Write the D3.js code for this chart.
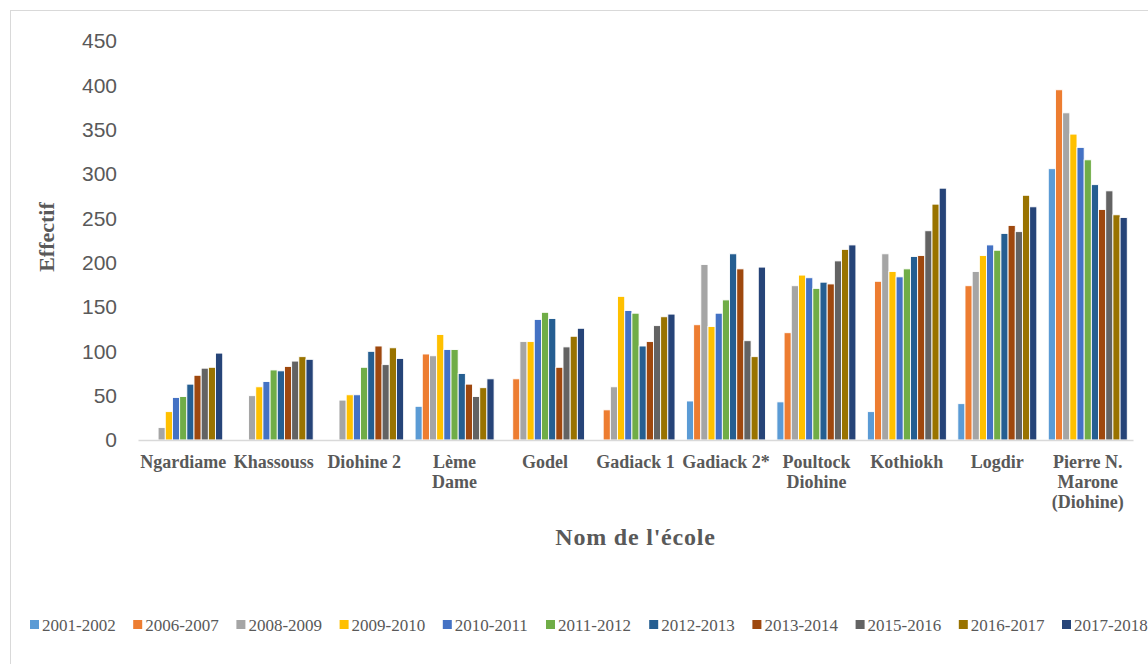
<!DOCTYPE html>
<html>
<head>
<meta charset="utf-8">
<script src="https://cdn.jsdelivr.net/npm/d3@7"></script>
<style>
  html, body { margin: 0; padding: 0; background: #fff; }
  svg { display: block; }
</style>
</head>
<body>
<svg id="chart" width="1148" height="664"></svg>
<script>
// Schools (x-axis categories); "\n" marks where a label wraps
const schools = [
  "Ngardiame", "Khassouss", "Diohine 2", "Lème\nDame", "Godel", "Gadiack 1",
  "Gadiack 2*", "Poultock\nDiohine", "Kothiokh", "Logdir", "Pierre N.\nMarone\n(Diohine)"
];

// School years (series)
const years = [
  "2001-2002", "2006-2007", "2008-2009", "2009-2010", "2010-2011", "2011-2012",
  "2012-2013", "2013-2014", "2015-2016", "2016-2017", "2017-2018"
];

const yearColors = [
  "#5B9BD5", "#ED7D31", "#A5A5A5", "#FFC000", "#4472C4", "#70AD47",
  "#255E91", "#9E480E", "#636363", "#997300", "#264478"
];

// Enrolment per school, one array per school year (null = no data)
const y2001_2002 = [null, null, null, 38, null, null, 44, 43, 32, 41, 306];
const y2006_2007 = [null, null, null, 97, 69, 34, 130, 121, 179, 174, 395];
const y2008_2009 = [14, 50, 45, 95, 111, 60, 198, 174, 210, 190, 369];
const y2009_2010 = [32, 60, 51, 119, 111, 162, 128, 186, 190, 208, 345];
const y2010_2011 = [48, 66, 51, 102, 136, 146, 143, 183, 184, 220, 330];
const y2011_2012 = [49, 79, 82, 102, 144, 143, 158, 171, 193, 214, 316];
const y2012_2013 = [63, 78, 100, 75, 137, 106, 210, 178, 207, 233, 288];
const y2013_2014 = [73, 83, 106, 63, 82, 111, 193, 176, 208, 242, 260];
const y2015_2016 = [81, 89, 85, 49, 105, 129, 112, 202, 236, 235, 281];
const y2016_2017 = [82, 94, 104, 59, 117, 139, 94, 215, 266, 276, 254];
const y2017_2018 = [98, 91, 92, 69, 126, 142, 195, 220, 284, 263, 251];

const yTicks = [0, 50, 100, 150, 200, 250, 300, 350, 400, 450];

const seriesValues = [
  y2001_2002, y2006_2007, y2008_2009, y2009_2010, y2010_2011, y2011_2012,
  y2012_2013, y2013_2014, y2015_2016, y2016_2017, y2017_2018
];

// Flat table of bars
const rows = [];
schools.forEach((s, i) => {
  years.forEach((yr, j) => {
    const v = seriesValues[j][i];
    if (v != null) rows.push({ school: s, year: yr, value: v, color: yearColors[j] });
  });
});

const svg = d3.select("#chart");
const textGrey = "#595959";
const serif = "'Liberation Serif', 'Times New Roman', serif";

// Outer chart frame
svg.append("rect")
  .attr("x", 10.5).attr("y", 10.5)
  .attr("width", 1160).attr("height", 680)
  .attr("fill", "none").attr("stroke", "#D9D9D9").attr("stroke-width", 1);

const plot = { left: 138, right: 1133, top: 41, bottom: 440 };

const x0 = d3.scaleBand().domain(schools).range([plot.left, plot.right]).paddingInner(0).paddingOuter(0);
const groupWidth = 79;
const x1 = d3.scaleBand().domain(years)
  .range([(x0.bandwidth() - groupWidth) / 2, (x0.bandwidth() + groupWidth) / 2]);
const y = d3.scaleLinear().domain([0, 450]).range([plot.bottom, plot.top]);

// Y axis (labels only)
const yAxis = svg.append("g")
  .attr("transform", `translate(${plot.left - 21},0)`)
  .call(d3.axisLeft(y).tickValues(yTicks).tickSize(0).tickPadding(0));
yAxis.select(".domain").remove();
yAxis.selectAll("text")
  .attr("fill", textGrey)
  .style("font-family", "'Liberation Sans', Arial, sans-serif")
  .style("font-size", "21px");

// Bars
svg.append("g").selectAll("rect")
  .data(rows)
  .join("rect")
  .attr("x", d => x0(d.school) + x1(d.year))
  .attr("y", d => y(d.value))
  .attr("width", x1.bandwidth())
  .attr("height", d => y(0) - y(d.value))
  .attr("fill", d => d.color)
  .attr("stroke", "#fff")
  .attr("stroke-width", 0.9);

// X axis
const xAxis = svg.append("g")
  .attr("transform", `translate(0,${plot.bottom})`)
  .call(d3.axisBottom(x0).tickSize(0).tickPadding(0).tickFormat(""));
xAxis.select(".domain").attr("stroke", "#D9D9D9").attr("stroke-width", 1.5);

// Category labels (bold serif, wrapped)
const labelG = svg.append("g");
schools.forEach(s => {
  const cx = x0(s) + x0.bandwidth() / 2;
  const t = labelG.append("text")
    .attr("x", cx).attr("y", 468)
    .attr("text-anchor", "middle")
    .attr("fill", textGrey)
    .style("font-family", serif)
    .style("font-weight", "bold")
    .style("font-size", "18px");
  s.split("\n").forEach((line, k) => {
    t.append("tspan").attr("x", cx).attr("dy", k === 0 ? 0 : 20).text(line);
  });
});

// Axis titles
svg.append("text")
  .attr("x", (plot.left + plot.right) / 2).attr("y", 545)
  .attr("text-anchor", "middle")
  .attr("fill", textGrey)
  .style("font-family", serif)
  .style("font-weight", "bold")
  .style("font-size", "24px")
  .style("letter-spacing", "0.8px")
  .text("Nom de l'école");

svg.append("text")
  .attr("transform", "translate(54,237) rotate(-90)")
  .attr("text-anchor", "middle")
  .attr("fill", textGrey)
  .style("font-family", serif)
  .style("font-weight", "bold")
  .style("font-size", "22px")
  .text("Effectif");

// Legend
const legend = svg.append("g");
years.forEach((yr, j) => {
  const lx = 30 + j * 103.2;
  legend.append("rect")
    .attr("x", lx).attr("y", 620)
    .attr("width", 9).attr("height", 9)
    .attr("fill", yearColors[j]);
  legend.append("text")
    .attr("x", lx + 12).attr("y", 625)
    .attr("dominant-baseline", "central")
    .attr("fill", textGrey)
    .style("font-family", serif)
    .style("font-size", "17px")
    .text(yr);
});
</script>
</body>
</html>
